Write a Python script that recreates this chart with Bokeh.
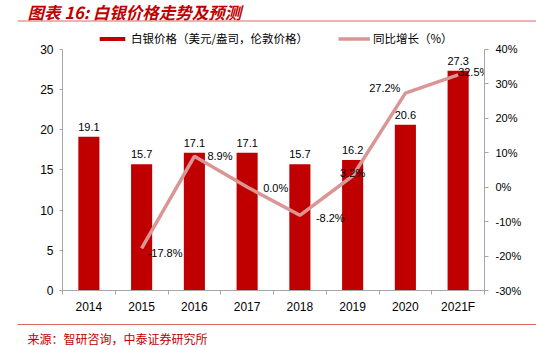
import math
from bokeh.plotting import figure
from bokeh.models import (Range1d, LinearAxis, FixedTicker, PrintfTickFormatter,
                          CustomJSTickFormatter, Legend, LegendItem, ColumnDataSource)
from bokeh.layouts import column, row
from bokeh.embed import file_html
from bokeh.resources import INLINE
from bokeh.core.properties import value

# ---------------- data ----------------
years = ["2014", "2015", "2016", "2017", "2018", "2019", "2020", "2021F"]
price = [19.1, 15.7, 17.1, 17.1, 15.7, 16.2, 20.6, 27.3]
growth = [None, -17.8, 8.9, 0.0, -8.2, 3.2, 27.2, 32.5]
left_ticks = [0, 5, 10, 15, 20, 25, 30]
right_ticks = [-30, -20, -10, 0, 10, 20, 30, 40]

title_text = "图表 16: 白银价格走势及预测"
source_text = "来源：智研咨询，中泰证券研究所"
legend_labels = ["白银价格（美元/盎司，伦敦价格）", "同比增长（%）"]

# ---------------- style ----------------
W = 536
RED = "#C00000"
PINK = "#D99694"
RULE = "#E06666"
AXIS = "#A6A6A6"
CJK = "Noto Sans CJK SC"
NUM = "Liberation Sans"
HEADROOM = 1.085  # extra room above the axes' top tick, used by the legend


def bare(fig):
    fig.grid.visible = False
    fig.outline_line_color = None
    fig.background_fill_color = "white"
    fig.border_fill_color = "white"


# ---------------- header ----------------
head = figure(width=W, height=25, x_range=Range1d(0, W), y_range=Range1d(25, 0),
              output_backend="svg", toolbar_location=None,
              x_axis_location=None, y_axis_location=None, min_border=0)
bare(head)
head.text(x=[27], y=[11], text=[title_text], text_font=value(CJK), text_font_size="16.5px",
          text_font_style="bold italic", text_color=RED, text_baseline="middle", text_align="left")
head.segment(x0=[17], y0=[20.5], x1=[W], y1=[20.5], line_color=RULE, line_width=1)

# ---------------- main chart ----------------
n = len(years)
xs = [i + 0.5 for i in range(n)]
growth_y = [float("nan") if g is None else g for g in growth]

lo, hi = left_ticks[0], left_ticks[-1]
rlo, rhi = right_ticks[0], right_ticks[-1]
main = figure(width=W, height=293, x_range=Range1d(0, n),
              y_range=Range1d(lo, lo + (hi - lo) * HEADROOM),
              output_backend="svg", toolbar_location=None,
              min_border_left=62, min_border_right=52, min_border_top=3, min_border_bottom=28)
bare(main)
main.extra_y_ranges = {"pct": Range1d(rlo, rlo + (rhi - rlo) * HEADROOM)}

bars = main.vbar(x=xs, top=price, width=0.4, fill_color=RED, line_color=None)
line = main.line(x=xs, y=growth_y, y_range_name="pct", line_color=PINK, line_width=3.5)

# bar value labels
main.text(x=xs, y=price, text=[f"{v:.1f}" for v in price], text_align="center",
          text_baseline="alphabetic", y_offset=-10, text_font=value(NUM),
          text_font_size="11px", text_color="#000000")

# growth labels
gx, gy, gt = [], [], []
for x, g in zip(xs, growth):
    if g is not None:
        gx.append(x)
        gy.append(g)
        gt.append(f"{g:.1f}%")
lab_align = ["left", "left", "left", "left", "center", "right", "left"]
lab_dx = [6, 13, 16, 16, 0, -5, 0]
lab_dy = [5, 0, 1, 3, -3, -5, -3]
gsrc = ColumnDataSource(dict(x=gx, y=gy, t=gt, a=lab_align, dx=lab_dx, dy=lab_dy))
main.text(x="x", y="y", text="t", source=gsrc, y_range_name="pct", text_align="a",
          x_offset="dx", y_offset="dy", text_baseline="middle", text_font=value(NUM),
          text_font_size="11px", text_color="#000000")

# x axis
xa = main.xaxis[0]
xa.ticker = FixedTicker(ticks=xs, minor_ticks=list(range(n + 1)))
xa.formatter = CustomJSTickFormatter(args=dict(labels=years),
                                     code="return labels[Math.floor(tick)];")
xa.major_tick_line_color = None
xa.major_tick_out = 0
xa.major_tick_in = 0
xa.minor_tick_in = 0
xa.minor_tick_out = 4
xa.minor_tick_line_color = AXIS
xa.axis_line_color = AXIS
xa.major_label_standoff = 5
xa.major_label_text_font = NUM
xa.major_label_text_font_size = "12px"
xa.major_label_text_color = "#000000"

# left axis
ya = main.yaxis[0]
ya.ticker = FixedTicker(ticks=left_ticks)
ya.bounds = (lo, hi)
ya.axis_line_color = AXIS
ya.major_tick_line_color = AXIS
ya.major_tick_out = 3
ya.major_tick_in = 0
ya.minor_tick_line_color = None
ya.major_label_standoff = 6
ya.major_label_text_font = NUM
ya.major_label_text_font_size = "12px"
ya.major_label_text_color = "#000000"

# right axis
ra = LinearAxis(y_range_name="pct", ticker=FixedTicker(ticks=right_ticks),
                formatter=PrintfTickFormatter(format="%d%%"), bounds=(rlo, rhi))
ra.axis_line_color = AXIS
ra.major_tick_line_color = AXIS
ra.major_tick_out = 4
ra.major_tick_in = 0
ra.minor_tick_line_color = None
ra.major_label_standoff = 7
ra.major_label_text_font = NUM
ra.major_label_text_font_size = "11px"
ra.major_label_text_color = "#000000"
main.add_layout(ra, "right")

legend = Legend(items=[LegendItem(label=legend_labels[0], renderers=[bars]),
                       LegendItem(label=legend_labels[1], renderers=[line])],
                location=(34, 244), orientation="horizontal",
                glyph_width=32, glyph_height=5, label_height=12, label_standoff=3,
                spacing=30, padding=0, margin=0, border_line_color=None,
                background_fill_alpha=0, label_text_font=CJK,
                label_text_font_size="11.5px", label_text_color="#000000")
main.add_layout(legend)

# ---------------- footer ----------------
foot = figure(width=W, height=29, x_range=Range1d(0, W), y_range=Range1d(29, 0),
              output_backend="svg", toolbar_location=None,
              x_axis_location=None, y_axis_location=None, min_border=0)
bare(foot)
foot.segment(x0=[17], y0=[6], x1=[W], y1=[6], line_color=RULE, line_width=1)
foot.text(x=[27], y=[19.5], text=[source_text], text_font=value(CJK), text_font_size="12px",
          text_color=RED, text_baseline="middle", text_align="left")

layout = column(row(head), row(main), row(foot), spacing=0)
open("out.html", "w").write(file_html(layout, INLINE))
